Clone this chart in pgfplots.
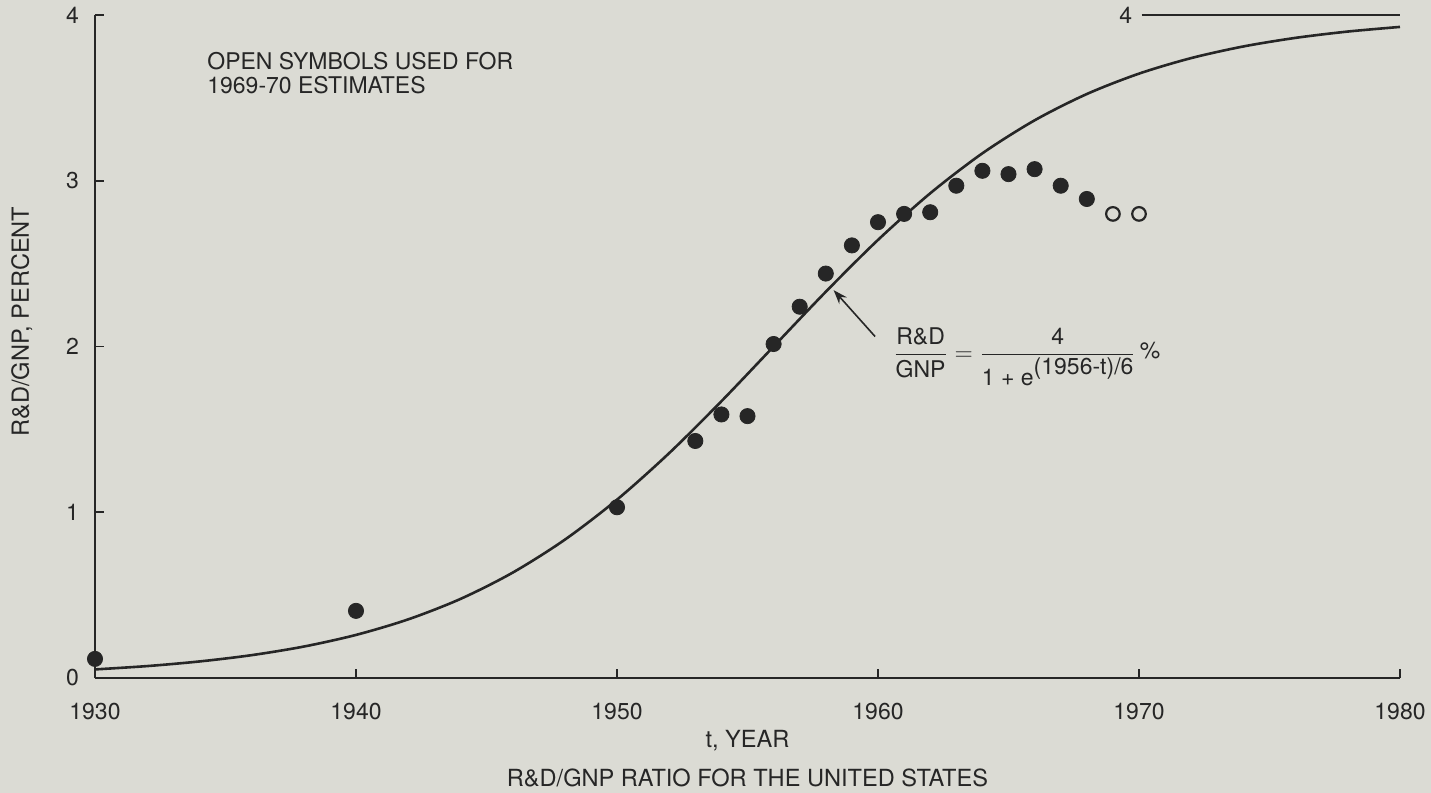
\documentclass[border=0pt]{standalone}
\usepackage{fontspec}
\setmainfont{TeX Gyre Heros}
\usepackage{amsmath}
\usepackage{pgfplots}
\pgfplotsset{compat=1.18}
\usetikzlibrary{arrows.meta}
\definecolor{paper}{RGB}{219,219,212}
\definecolor{ink}{RGB}{38,38,38}

\pgfplotstableread{
year  val
1930  0.115
1940  0.405
1950  1.03
1953  1.43
1954  1.59
1955  1.58
1956  2.015
1957  2.24
1958  2.44
1959  2.61
1960  2.75
1961  2.80
1962  2.81
1963  2.97
1964  3.06
1965  3.04
1966  3.07
1967  2.97
1968  2.89
}\measured

\pgfplotstableread{
year  val
1969  2.80
1970  2.80
}\estimated

\begin{document}
\fontsize{11.5}{12}\selectfont
\begin{tikzpicture}[font=\fontsize{11.5}{12}\selectfont]
\fill[paper] (-47.5pt,-57.5pt) rectangle (668pt,339pt);
\begin{axis}[
  at={(0,0)}, anchor=south west,
  scale only axis, width=652.5pt, height=331.5pt,
  xmin=1930, xmax=1980, ymin=0, ymax=4,
  axis lines=left,
  axis line style={-, line width=1.3pt, ink},
  xtick={1930,1940,...,1980}, ytick={0,1,2,3,4},
  tick align=inside, major tick length=4.5pt,
  tick style={line width=0.8pt, ink},
  xticklabel style={yshift=-8.5pt, text=ink},
  yticklabel style={xshift=-4pt, text=ink},
  /pgf/number format/assume math mode=true,
  /pgf/number format/1000 sep={},
  clip=false,
]
% logistic fit, values typed at two-year steps
\addplot[ink, line width=1.3pt, smooth] coordinates {
  (1930,0.0518) (1932,0.0719) (1934,0.0998) (1936,0.1378) (1938,0.1897)
  (1940,0.2599) (1942,0.3537) (1944,0.4768) (1946,0.6355) (1948,0.8344)
  (1950,1.0758) (1952,1.3569) (1954,1.6697) (1956,2.0) (1958,2.3303)
  (1960,2.6431) (1962,2.9242) (1964,3.1656) (1966,3.3645) (1968,3.5232)
  (1970,3.6463) (1972,3.7401) (1974,3.8103) (1976,3.8621) (1978,3.9002)
  (1980,3.9281)};
% asymptote
\addplot[ink, line width=0.6pt] coordinates {(1970.1,4) (1980,4)};
\addplot[only marks, mark=*, mark size=3.8pt, mark options={fill=ink, draw=ink}]
  table[x=year, y=val] {\measured};
\addplot[only marks, mark=o, mark size=3.4pt, mark options={line width=1.1pt, draw=ink}]
  table[x=year, y=val] {\estimated};

\node[anchor=east, inner sep=0pt, text=ink] at (axis cs:1969.75,4) {4};
\node[anchor=base west, inner sep=0pt, text=ink] at (axis cs:1934.29,3.67) {OPEN SYMBOLS USED FOR};
\node[anchor=base west, inner sep=0pt, text=ink] at (axis cs:1934.29,3.525) {1969-70 ESTIMATES};

\draw[ink, line width=0.8pt, -{Stealth[length=7pt, width=5pt]}]
  (axis cs:1959.89,2.06) -- (axis cs:1958.3,2.34);
\node[anchor=west, inner sep=0pt, text=ink] at (axis cs:1960.57,1.94)
  {$\dfrac{\text{R\&D}}{\text{GNP}} = \dfrac{\text{4}}{\text{1 + e\raisebox{0.45em}{(1956-t)/6}}}\,\text{\raisebox{0.1em}{\%}}$};

\node[rotate=90, text=ink, font=\fontsize{11.8}{12}\selectfont] at (axis cs:1927.2,2.15) {R\&D/GNP, PERCENT};
\node[anchor=base, inner sep=0pt, text=ink, font=\fontsize{11.8}{12}\selectfont] at (axis cs:1955,-0.42) {t, YEAR};
\node[anchor=base, inner sep=0pt, text=ink, font=\fontsize{11.8}{12}\selectfont] at (axis cs:1955,-0.655) {R\&D/GNP RATIO FOR THE UNITED STATES};
\end{axis}
\pgfresetboundingbox
\path (-47.5pt,-57.5pt) rectangle (668pt,339pt);
\end{tikzpicture}
\end{document}
